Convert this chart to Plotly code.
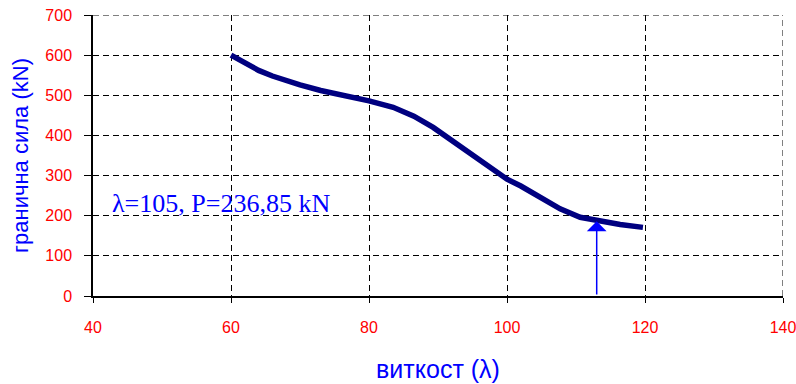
import plotly.graph_objects as go

# data
lam = [60, 62, 64, 66, 68, 70, 73, 77, 80, 83.5, 86.5, 89.3, 92.2, 95.6, 98.5,
       100, 102, 104.8, 107.7, 110.6, 113, 116.4, 119.7]
force = [600, 582, 562, 548, 536, 526, 512, 498, 486, 470, 448, 420, 386, 345, 312,
         291, 274, 246, 217, 196, 188, 178, 171]
arrow_x = 113
arrow_y = 186
label_text = "λ=105, P=236,85 kN"
x_ticks = [40, 60, 80, 100, 120, 140]
y_ticks = [0, 100, 200, 300, 400, 500, 600, 700]

fig = go.Figure()
fig.add_trace(go.Scatter(x=lam, y=force, mode="lines",
                         line=dict(color="#000080", width=5.5), hoverinfo="skip",
                         showlegend=False))

# dashed grid lines at the outer ends of the ranges (plotly skips grid at range edges)
grid_line = dict(color="black", width=1, dash="6px,4px")
fig.add_shape(type="line", xref="x domain", yref="y", x0=0, x1=1,
              y0=y_ticks[-1], y1=y_ticks[-1], line=grid_line, layer="below")
fig.add_shape(type="line", xref="x", yref="y domain", x0=x_ticks[-1], x1=x_ticks[-1],
              y0=0, y1=1, line=grid_line, layer="below")

fig.add_annotation(x=arrow_x, y=arrow_y, ax=arrow_x, ay=0, xref="x", yref="y",
                   axref="x", ayref="y", text="", showarrow=True,
                   arrowhead=1, arrowsize=2.2, arrowwidth=1.5, arrowcolor="#0000FF",
                   standoff=0)
fig.add_annotation(x=42.5, y=231, xref="x", yref="y", text=label_text,
                   showarrow=False, xanchor="left", yanchor="middle",
                   font=dict(family="Liberation Serif", size=26, color="#0000FF"))

tickfont = dict(family="Liberation Sans", size=16, color="#FF0000")
fig.update_xaxes(range=[x_ticks[0], x_ticks[-1]], tickvals=x_ticks, showline=True,
                 linecolor="black", linewidth=1.5, showgrid=True, gridcolor="black",
                 gridwidth=1, griddash="6px,4px", ticks="outside", ticklen=5,
                 tickcolor="black", tickfont=tickfont, ticklabelstandoff=11,
                 ticklabeloverflow="allow", zeroline=False, automargin=False,
                 title=dict(text="виткост (λ)", standoff=26,
                            font=dict(family="Liberation Sans", size=25, color="#0000FF")))
fig.update_yaxes(range=[y_ticks[0], y_ticks[-1]], tickvals=y_ticks, showline=True,
                 linecolor="black", linewidth=1.5, showgrid=True, gridcolor="black",
                 gridwidth=1, griddash="6px,4px", ticks="outside", ticklen=7,
                 tickcolor="black", tickfont=tickfont, ticklabelstandoff=9,
                 ticklabeloverflow="allow", zeroline=False, automargin=False,
                 title=dict(text="гранична сила (kN)", standoff=11,
                            font=dict(family="Liberation Sans", size=22, color="#0000FF")))
fig.update_layout(width=796, height=384, margin=dict(l=93, r=13, t=15, b=88),
                  plot_bgcolor="white", paper_bgcolor="white")
# remove the browser's default 8px page margin so the figure fills the window
fig.write_html("out.html", config={"displayModeBar": False},
               post_script="document.body.style.margin='0px';")
